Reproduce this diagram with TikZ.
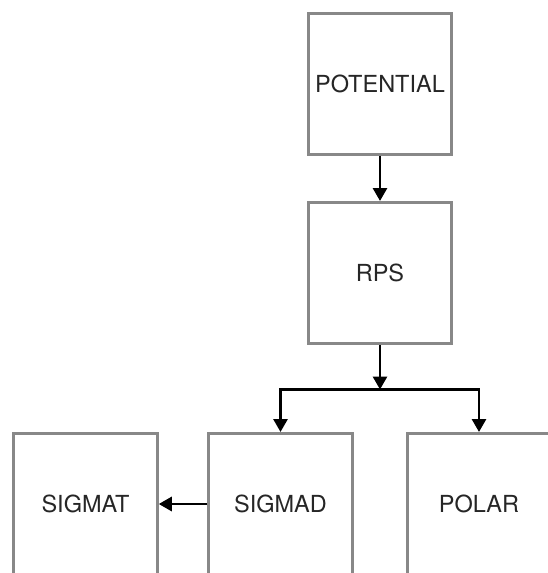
\documentclass[tikz,border=0pt]{standalone}
\usepackage{fontspec}
\setmainfont{TeX Gyre Heros}
\usetikzlibrary{arrows.meta}
\definecolor{boxgray}{HTML}{888888}
\definecolor{txt}{HTML}{262626}
\begin{document}
\begin{tikzpicture}[x=1pt,y=-1pt,
  modbox/.style={draw=boxgray, line width=3pt, fill=white,
    minimum width=143.5pt, minimum height=141pt, inner sep=0pt,
    font=\fontsize{23.5}{27}\selectfont, text=txt},
  flow/.style={line width=2.8pt, draw=black,
    -{Triangle[length=13pt,width=14pt]}}]
\useasboundingbox (0,0) rectangle (548,573);
\clip (0,0) rectangle (548,573);
\node[modbox] (pot) at (380,83.5) {POTENTIAL};
\node[modbox] (rps) at (380,273) {RPS};
\node[modbox] (sigmat) at (85.5,504) {SIGMAT};
\node[modbox] (sigmad) at (280.5,504) {SIGMAD};
\node[modbox] (polar) at (479,504) {POLAR};
\coordinate (split) at (380,389.5);
\draw[flow] (pot) -- (rps);
\draw[flow] (rps) -- (split);
\draw[flow] (split) -| (sigmad.north);
\draw[flow] (split) -| (polar.north);
\draw[flow] (sigmad) -- (sigmat);
\end{tikzpicture}
\end{document}
